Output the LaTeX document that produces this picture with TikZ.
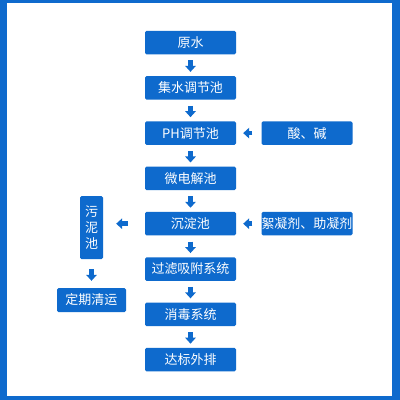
\documentclass[tikz,border=0pt]{standalone}
\usepackage{fontspec}
\usepackage{xcolor}
\usepackage{tikz}
\usetikzlibrary{positioning,arrows.meta}
\newfontfamily\cjk{Noto Sans CJK SC}
\definecolor{boxblue}{RGB}{14,106,205}

\tikzset{
  box/.style={fill=boxblue, text=white, rounded corners=1.5pt, minimum width=91pt, minimum height=23.5pt,
    inner sep=0pt, font=\cjk\fontsize{13}{14}\selectfont},
  flow/.style={-{Triangle[width=10.5pt,length=6pt]}, line width=4.5pt, boxblue}
}

\begin{document}
\begin{tikzpicture}[x=1pt, y=-1pt]
            \useasboundingbox (0,0) rectangle (400,400);
            \fill[boxblue] (0,0) rectangle (400,400);
            \fill[white] (7,3) rectangle (392,396);

            \node[box] (yuanshui) at (190.5,42.5) {原水};
            \node[box, below of=yuanshui, node distance=45.3pt] (jishui) {集水调节池};
            \node[box, below of=jishui, node distance=45.3pt] (ph) {PH调节池};
            \node[box, below of=ph, node distance=45.3pt] (weidian) {微电解池};
            \node[box, below of=weidian, node distance=45.3pt] (chendian) {沉淀池};
            \node[box, below of=chendian, node distance=45.3pt] (guolv) {过滤吸附系统};
            \node[box, below of=guolv, node distance=45.3pt] (xiaodu) {消毒系统};
            \node[box, below of=xiaodu, node distance=45.3pt] (dabiao) {达标外排};

            \node[box, right of=ph, node distance=116.5pt] (suanjian) {酸、碱};
            \node[box, right of=chendian, node distance=116.5pt] (xuning) {絮凝剂、助凝剂};

            \node[box, minimum width=23pt, minimum height=63pt, align=center,
              font=\cjk\fontsize{13}{16}\selectfont] (wuni) at (91.5,227.5) {污\\泥\\池};
            \node[box, minimum width=69pt, minimum height=24pt] (qingyun) at (91.5,300) {定期清运};

            % main line
            \foreach \a/\b in {yuanshui/jishui, jishui/ph, ph/weidian, weidian/chendian,
              chendian/guolv, guolv/xiaodu, xiaodu/dabiao}
              \draw[flow, shorten <=6pt, shorten >=4pt] (\a) -- (\b);

            % dosing
            \draw[flow, shorten <=9pt, shorten >=7pt] (suanjian) -- (ph);
            \draw[flow, shorten <=9pt, shorten >=7pt] (xuning) -- (chendian);

            % sludge
            \draw[flow, shorten <=17pt, shorten >=13pt] (chendian) -- (chendian -| wuni.east);
            \draw[flow, shorten <=10pt, shorten >=7pt] (wuni) -- (qingyun);
        \end{tikzpicture}
\end{document}
